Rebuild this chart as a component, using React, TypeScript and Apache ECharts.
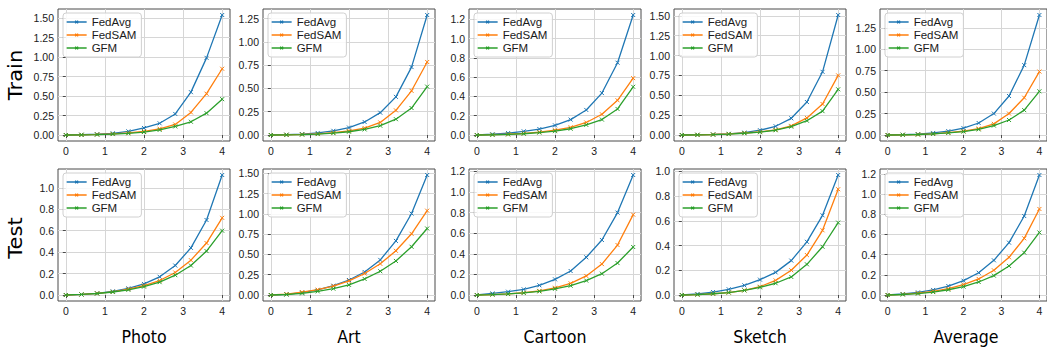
import React, { useEffect, useRef } from "react";
import * as echarts from "echarts";

const xValues = [0, 0.4, 0.8, 1.2, 1.6, 2.0, 2.4, 2.8, 3.2, 3.6, 4.0];
const xTickLabels = ["0", "1", "2", "3", "4"];
const seriesNames = ["FedAvg", "FedSAM", "GFM"];
const colors = ["#1f77b4", "#ff7f0e", "#2ca02c"];
const domains = ["Photo", "Art", "Cartoon", "Sketch", "Average"];
const rowTitles = ["Train", "Test"];

// Train row
const trainPhotoFedAvg = [0, 0.003, 0.01, 0.022, 0.047, 0.09, 0.15, 0.27, 0.55, 0.99, 1.54];
const trainPhotoFedSAM = [0, 0.002, 0.007, 0.014, 0.026, 0.046, 0.08, 0.135, 0.29, 0.53, 0.85];
const trainPhotoGFM = [0, 0.002, 0.006, 0.012, 0.022, 0.038, 0.065, 0.11, 0.17, 0.28, 0.46];

const trainArtFedAvg = [0, 0.003, 0.01, 0.022, 0.045, 0.08, 0.14, 0.24, 0.41, 0.73, 1.29];
const trainArtFedSAM = [0, 0.002, 0.006, 0.012, 0.025, 0.045, 0.075, 0.135, 0.265, 0.475, 0.785];
const trainArtGFM = [0, 0.002, 0.005, 0.01, 0.02, 0.035, 0.06, 0.1, 0.17, 0.29, 0.52];

const trainCartoonFedAvg = [0, 0.008, 0.02, 0.038, 0.062, 0.1, 0.16, 0.26, 0.435, 0.75, 1.245];
const trainCartoonFedSAM = [0, 0.003, 0.008, 0.017, 0.03, 0.05, 0.08, 0.13, 0.215, 0.36, 0.59];
const trainCartoonGFM = [0, 0.002, 0.006, 0.013, 0.025, 0.04, 0.065, 0.105, 0.16, 0.27, 0.5];

const trainSketchFedAvg = [0, 0.002, 0.007, 0.015, 0.03, 0.06, 0.11, 0.21, 0.415, 0.795, 1.51];
const trainSketchFedSAM = [0, 0.002, 0.006, 0.013, 0.025, 0.04, 0.065, 0.115, 0.215, 0.39, 0.75];
const trainSketchGFM = [0, 0.002, 0.005, 0.012, 0.022, 0.035, 0.06, 0.105, 0.18, 0.3, 0.575];

const trainAverageFedAvg = [0, 0.003, 0.01, 0.024, 0.045, 0.08, 0.14, 0.25, 0.455, 0.815, 1.4];
const trainAverageFedSAM = [0, 0.002, 0.006, 0.014, 0.027, 0.045, 0.075, 0.13, 0.25, 0.435, 0.74];
const trainAverageGFM = [0, 0.002, 0.006, 0.012, 0.024, 0.04, 0.065, 0.11, 0.175, 0.29, 0.51];

// Test row
const testPhotoFedAvg = [0, 0.005, 0.016, 0.034, 0.062, 0.103, 0.17, 0.275, 0.44, 0.7, 1.12];
const testPhotoFedSAM = [0, 0.005, 0.015, 0.03, 0.055, 0.088, 0.135, 0.21, 0.325, 0.485, 0.72];
const testPhotoGFM = [0, 0.005, 0.014, 0.028, 0.048, 0.078, 0.12, 0.185, 0.275, 0.41, 0.6];

const testArtFedAvg = [0, 0.008, 0.03, 0.062, 0.115, 0.185, 0.284, 0.433, 0.667, 1.005, 1.48];
const testArtFedSAM = [0, 0.012, 0.035, 0.065, 0.11, 0.175, 0.265, 0.385, 0.545, 0.755, 1.04];
const testArtGFM = [0, 0.006, 0.02, 0.045, 0.078, 0.125, 0.198, 0.293, 0.42, 0.595, 0.82];

const testCartoonFedAvg = [0, 0.015, 0.032, 0.055, 0.094, 0.152, 0.233, 0.366, 0.534, 0.8, 1.165];
const testCartoonFedSAM = [0, 0.004, 0.01, 0.022, 0.04, 0.07, 0.113, 0.185, 0.3, 0.485, 0.78];
const testCartoonGFM = [0, 0.004, 0.01, 0.02, 0.035, 0.06, 0.09, 0.14, 0.207, 0.31, 0.466];

const testSketchFedAvg = [0, 0.008, 0.024, 0.046, 0.078, 0.124, 0.183, 0.278, 0.43, 0.644, 0.97];
const testSketchFedSAM = [0, 0.003, 0.01, 0.02, 0.038, 0.067, 0.118, 0.2, 0.323, 0.523, 0.855];
const testSketchGFM = [0, 0.003, 0.01, 0.02, 0.037, 0.062, 0.095, 0.146, 0.248, 0.39, 0.585];

const testAverageFedAvg = [0, 0.01, 0.026, 0.05, 0.089, 0.142, 0.221, 0.344, 0.519, 0.783, 1.19];
const testAverageFedSAM = [0, 0.007, 0.018, 0.036, 0.063, 0.102, 0.159, 0.245, 0.374, 0.562, 0.853];
const testAverageGFM = [0, 0.005, 0.014, 0.029, 0.052, 0.083, 0.129, 0.192, 0.288, 0.42, 0.62];

// y tick labels
const yTicksQuarter150 = ["0.00", "0.25", "0.50", "0.75", "1.00", "1.25", "1.50"];
const yTicksQuarter125 = ["0.00", "0.25", "0.50", "0.75", "1.00", "1.25"];
const yTicksFifth12 = ["0.0", "0.2", "0.4", "0.6", "0.8", "1.0", "1.2"];
const yTicksFifth10 = ["0.0", "0.2", "0.4", "0.6", "0.8", "1.0"];

const panelData = [
  { row: 0, col: 0, lines: [trainPhotoFedAvg, trainPhotoFedSAM, trainPhotoGFM], yTicks: yTicksQuarter150 },
  { row: 0, col: 1, lines: [trainArtFedAvg, trainArtFedSAM, trainArtGFM], yTicks: yTicksQuarter125 },
  { row: 0, col: 2, lines: [trainCartoonFedAvg, trainCartoonFedSAM, trainCartoonGFM], yTicks: yTicksFifth12 },
  { row: 0, col: 3, lines: [trainSketchFedAvg, trainSketchFedSAM, trainSketchGFM], yTicks: yTicksQuarter150 },
  { row: 0, col: 4, lines: [trainAverageFedAvg, trainAverageFedSAM, trainAverageGFM], yTicks: yTicksQuarter125 },
  { row: 1, col: 0, lines: [testPhotoFedAvg, testPhotoFedSAM, testPhotoGFM], yTicks: yTicksFifth10 },
  { row: 1, col: 1, lines: [testArtFedAvg, testArtFedSAM, testArtGFM], yTicks: yTicksQuarter150 },
  { row: 1, col: 2, lines: [testCartoonFedAvg, testCartoonFedSAM, testCartoonGFM], yTicks: yTicksFifth12 },
  { row: 1, col: 3, lines: [testSketchFedAvg, testSketchFedSAM, testSketchGFM], yTicks: yTicksFifth10 },
  { row: 1, col: 4, lines: [testAverageFedAvg, testAverageFedSAM, testAverageGFM], yTicks: yTicksFifth12 },
];

const panelLefts = [58, 263, 469, 674, 880];
const panelTops = [9, 169];
const panelWidth = 172;
const panelHeight = 132;

const FRAME = "#4a4a4a";
const GRIDLINE = "#d6d6d6";
const TEXT = "#1a1a1a";
const TICK_FONT = "Liberation Sans";
const X_MARK = "path://M0,0L10,10M10,0L0,10";
const LEGEND_ICON = "path://M0,0M20,10M0,5L20,5M8.6,3.6L11.4,6.4M11.4,3.6L8.6,6.4";

function buildOption() {
  const grid: any[] = [];
  const xAxis: any[] = [];
  const yAxis: any[] = [];
  const series: any[] = [];
  const legend: any[] = [];

  panelData.forEach((p, i) => {
    const left = panelLefts[p.col];
    const top = panelTops[p.row];
    grid.push({
      left,
      top,
      width: panelWidth,
      height: panelHeight,
      show: true,
      borderColor: FRAME,
      borderWidth: 1,
      backgroundColor: "transparent",
      containLabel: false,
    });
    const xTickVals = xTickLabels.map(Number);
    xAxis.push({
      type: "value",
      gridIndex: i,
      min: -0.2,
      max: 4.2,
      axisLine: { show: false },
      axisTick: { show: true, length: 3, customValues: xTickVals, lineStyle: { color: FRAME } },
      axisLabel: {
        customValues: xTickVals,
        color: TEXT,
        fontFamily: TICK_FONT,
        fontSize: 10.5,
        margin: 4,
        formatter: (v: number) => String(Math.round(v)),
      },
      splitLine: { show: true, lineStyle: { color: GRIDLINE, width: 1 } },
    });
    const maxVal = Math.max(...p.lines.map((l) => Math.max(...l)));
    const yTickVals = p.yTicks.map(Number);
    const labels = p.yTicks;
    yAxis.push({
      type: "value",
      gridIndex: i,
      min: -0.05 * maxVal,
      max: 1.05 * maxVal,
      axisLine: { show: false },
      axisTick: { show: true, length: 3, customValues: yTickVals, lineStyle: { color: FRAME } },
      axisLabel: {
        customValues: yTickVals,
        color: TEXT,
        fontFamily: TICK_FONT,
        fontSize: 10.5,
        margin: 4,
        formatter: (v: number) => {
          const idx = yTickVals.findIndex((t) => Math.abs(t - v) < 1e-6);
          return idx >= 0 ? labels[idx] : "";
        },
      },
      splitLine: { show: true, lineStyle: { color: GRIDLINE, width: 1 } },
    });
    p.lines.forEach((vals, k) => {
      series.push({
        type: "line",
        name: seriesNames[k],
        xAxisIndex: i,
        yAxisIndex: i,
        data: vals.map((v, j) => [xValues[j], v]),
        symbol: X_MARK,
        symbolSize: 4,
        showSymbol: true,
        showAllSymbol: true,
        color: colors[k],
        lineStyle: { color: colors[k], width: 1.3 },
        itemStyle: { color: colors[k], borderColor: colors[k], borderWidth: 1 },
        z: 3 + k,
      });
    });
    legend.push({
      orient: "vertical",
      left: left + 5,
      top: top + 4,
      data: seriesNames.map((n) => ({ name: n, icon: LEGEND_ICON })),
      itemWidth: 20,
      itemHeight: 10,
      itemGap: 1,
      padding: [3, 5, 3, 3],
      backgroundColor: "rgba(255,255,255,0.85)",
      borderColor: "#d0d0d0",
      borderWidth: 1,
      borderRadius: 3,
      selectedMode: false,
      itemStyle: { borderColor: "inherit", borderWidth: 1.3 },
      textStyle: { color: TEXT, fontFamily: TICK_FONT, fontSize: 11.5 },
    });
  });

  const graphic: any[] = [];
  rowTitles.forEach((t, r) => {
    graphic.push({
      type: "text",
      x: 15,
      y: r === 0 ? 75 : 238,
      rotation: Math.PI / 2,
      scaleY: 0.9,
      style: {
        text: t,
        fill: "#000",
        font: "21px 'DejaVu Sans'",
        textAlign: "center",
        textVerticalAlign: "middle",
      },
    });
  });
  domains.forEach((d, c) => {
    graphic.push({
      type: "text",
      x: panelLefts[c] + panelWidth / 2,
      y: 337,
      scaleX: 0.88,
      style: {
        text: d,
        fill: "#000",
        font: "18px 'DejaVu Sans'",
        textAlign: "center",
        textVerticalAlign: "middle",
      },
    });
  });

  return {
    animation: false,
    backgroundColor: "#ffffff",
    grid,
    xAxis,
    yAxis,
    series,
    legend,
    graphic,
  };
}

export default function App() {
  const ref = useRef<HTMLDivElement>(null);
  useEffect(() => {
    if (!ref.current) return;
    const chart = echarts.init(ref.current, null, { renderer: "svg" });
    chart.setOption(buildOption() as any);
    return () => chart.dispose();
  }, []);
  return (
    <div
      ref={ref}
      style={{ position: "absolute", left: 0, top: 0, width: 1047, height: 352 }}
    />
  );
}
